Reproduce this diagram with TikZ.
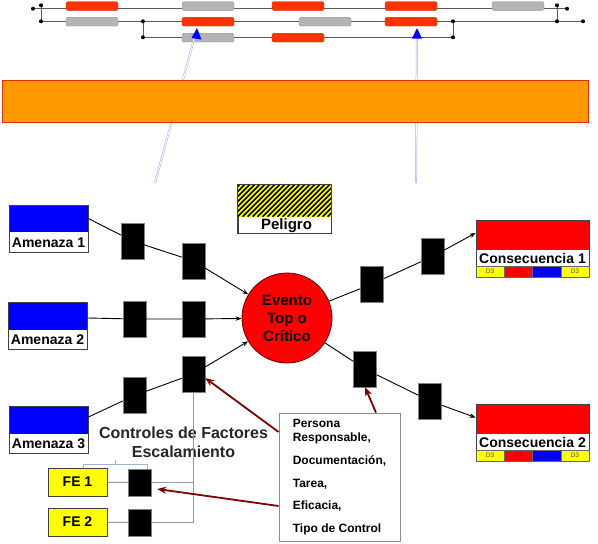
\documentclass[tikz,border=0pt]{standalone}
\usepackage{fontspec}
\setmainfont{Liberation Sans}
\usetikzlibrary{arrows.meta,calc}
\definecolor{orng}{HTML}{FF9900}
\definecolor{orngedge}{HTML}{E03000}
\definecolor{railred}{HTML}{FF3300}
\definecolor{railgray}{HTML}{B4B4B4}
\definecolor{darkmaroon}{HTML}{800000}
\definecolor{framecol}{HTML}{404040}
\definecolor{cellyel}{HTML}{FFFF00}
\definecolor{brackcol}{HTML}{9DB4D4}
\definecolor{lav}{HTML}{A8A8F0}
\begin{document}
\begin{tikzpicture}[x=1pt,y=-1pt,
  bfont/.style={font=\bfseries\fontsize{14}{16}\selectfont},
  ctrl/.style={fill=black, draw=black!50, line width=0.4pt, minimum width=23pt, minimum height=36pt, inner sep=0pt},
  smallctrl/.style={ctrl, minimum height=27pt},
  threat/.style={draw=framecol, line width=0.8pt, fill=white, minimum width=79pt, minimum height=47pt, inner sep=0pt,
     path picture={\fill[blue] (path picture bounding box.north west) rectangle ([yshift=-27pt]path picture bounding box.north east);}},
  conseq/.style={draw=framecol, line width=0.8pt, fill=white, minimum width=113pt, minimum height=57pt, inner sep=0pt,
     path picture={\fill[red] (path picture bounding box.north west) rectangle ([yshift=-30pt]path picture bounding box.north east);}},
  cell/.style={draw=black!60, line width=0.4pt, minimum width=28.25pt, minimum height=11pt, inner sep=0pt, font=\fontsize{6.5}{7}\selectfont},
  febox/.style={fill=cellyel, draw=framecol, line width=0.8pt, minimum width=59pt, minimum height=28pt, inner sep=0pt, bfont},
  conn/.style={draw=black, line width=0.9pt, -{Stealth[length=6pt,width=4.5pt]}},
  redarrow/.style={draw=darkmaroon, line width=1.8pt, -{Stealth[length=9pt,width=7pt]}},
  gline/.style={draw=black!40, line width=1pt},
  rail/.style={draw=black!65, line width=0.9pt},
  raildot/.style={circle, fill=black, inner sep=0pt, minimum size=4pt},
  blk/.style={rounded corners=1.5pt, line width=0.4pt}
]
\useasboundingbox (0,0) rectangle (598,544);

% ---------- top rail diagram ----------
\coordinate (l1) at (33,8.7);
\coordinate (l2) at (41,5.3);
\coordinate (l3) at (41,21.3);
\coordinate (r1) at (567,8.7);
\coordinate (r2) at (557,5.3);
\coordinate (r3) at (557,21.3);
\coordinate (r4) at (583,21.3);
\coordinate (m1) at (143,21.3);
\coordinate (m2) at (143,37.3);
\coordinate (m3) at (453,21.3);
\coordinate (m4) at (453,37.3);
\draw[rail] (l1) -- (r1);
\draw[rail] (l3) -- (r4);
\draw[rail] (m2) -- (m4);
\draw[rail] (l2) -- (l3);
\draw[rail] (r2) -- (r3);
\draw[rail] (m1) -- (m2);
\draw[rail] (m3) -- (m4);
\foreach \c in {l1,l2,l3,r1,r2,r3,r4,m1,m2,m3,m4} \node[raildot] at (\c) {};
\foreach \x/\y/\c in {66/6/railred, 182/6/railgray, 272/6/railred, 385/6/railred, 492/6/railgray,
                      66/21.7/railgray, 182/21.7/railred, 299/21.7/railgray, 385/21.7/railred,
                      182/37.7/railgray, 272/37.7/railred}
  \filldraw[blk, fill=\c, draw=\c!85!black] (\x,\y-4.3) rectangle ++(52,8.6);

% blue pointers
\coordinate (b1s) at (155,183);
\coordinate (b1t) at (197,28);
\coordinate (b2s) at (416,183);
\coordinate (b2t) at (417,28);
\draw[lav, double=white, double distance=0.9pt, line width=0.5pt] (b1s) -- ($(b1s)!0.93!(b1t)$);
\draw[lav, double=white, double distance=0.9pt, line width=0.5pt] (b2s) -- ($(b2s)!0.93!(b2t)$);
\fill[blue] (b1t) -- ++(-5.5,10) -- ++(10,1.5) -- cycle;
\fill[blue] (b2t) -- ++(-5,10.5) -- ++(10,0) -- cycle;

% orange bar
\filldraw[fill=orng, draw=orngedge, line width=0.8pt] (2,80) rectangle (588,122);

% ---------- bow tie ----------
% Peligro
\node[draw=framecol, line width=0.8pt, fill=white, minimum width=93pt, minimum height=48pt, inner sep=0pt] (pel) at (284.5,209) {};
\begin{scope}
  \clip (pel.north west) rectangle ([yshift=-32pt]pel.north east);
  \fill[cellyel] (pel.north west) rectangle ([yshift=-32pt]pel.north east);
  \foreach \i in {-40,-35,...,100}
    \draw[line width=1.7pt] ([xshift=\i pt, yshift=-32pt]pel.north west) -- ++(40,-40);
\end{scope}
\draw[framecol, line width=0.8pt] (pel.north west) rectangle (pel.south east);
\node[font=\bfseries\fontsize{15}{17}\selectfont, inner sep=0pt] at ([xshift=2pt,yshift=8pt]pel.south) {Peligro};

% threats
\node[threat] (a1) at (48.5,228.5) {};
\node[bfont, inner sep=0pt] at ([yshift=10pt]a1.south) {Amenaza 1};
\node[threat] (a2) at (47.5,326) {};
\node[bfont, inner sep=0pt] at ([yshift=10pt]a2.south) {Amenaza 2};
\node[threat] (a3) at (48.5,430) {};
\node[bfont, inner sep=0pt] at ([yshift=10pt]a3.south) {Amenaza 3};

% top event
\node[circle, fill=red, draw=black!60!red, line width=0.8pt, minimum size=90pt, inner sep=0pt, align=center,
      font=\bfseries\fontsize{15}{18}\selectfont] (ev) at (287,318) {Evento\\Top o\\Crítico};

% controls
\node[ctrl] (c11) at (132.5,241) {};
\node[ctrl] (c12) at (193.5,261) {};
\node[ctrl] (c21) at (134.5,319) {};
\node[ctrl] (c22) at (193.5,319) {};
\node[ctrl] (c31) at (134.5,395.5) {};
\node[ctrl] (c32) at (193.5,374) {};
\node[ctrl] (r11) at (372,284) {};
\node[ctrl] (r12) at (432.5,256.5) {};
\node[ctrl] (r21) at (365,369) {};
\node[ctrl] (r22) at (430,401) {};

% consequences
\node[conseq] (c1) at (532.5,248.5) {};
\node[bfont, inner sep=0pt] at ([yshift=19pt]c1.south) {Consecuencia 1};
\node[conseq] (c2) at (532.5,432.5) {};
\node[bfont, inner sep=0pt] at ([yshift=19pt]c2.south) {Consecuencia 2};
\foreach \k/\yy in {1/271.5, 2/455.5} {
  \node[cell, fill=cellyel, text=black!70] (d\k a) at (490.1,\yy) {D3};
  \node[cell, fill=red, text=red!55!black] (d\k b) at (518.4,\yy) {E4};
  \node[cell, fill=blue, text=blue!55!black] (d\k c) at (546.6,\yy) {B2};
  \node[cell, fill=cellyel, text=black!70] (d\k d) at (574.9,\yy) {D3};
}

% connectors
\draw[conn] ([yshift=10pt]a1.east) -- (c11) -- (c12) -- (ev);
\draw[conn] ([yshift=8pt]a2.east) -- (c21) -- (c22) -- (ev);
\draw[conn] ([yshift=13pt]a3.east) -- (c31) -- (c32) -- (ev);
\draw[conn] (ev) -- (r11) -- (r12) -- ([yshift=15.5pt]c1.west);
\draw[conn] (ev) -- (r21) -- (r22) -- ([yshift=15pt]c2.west);

% escalation factors
\node[font=\bfseries\fontsize{16}{19}\selectfont, text=black!85, align=center, inner sep=0pt] (ctl) at (183.5,442.5) {Controles de Factores\\Escalamiento};
\draw[brackcol, line width=0.8pt] (83,469) -- (83,464) -- (147,464) -- (147,469);
\draw[brackcol, line width=0.8pt] (115,464) -- (115,459.5);
\node[febox] (fe1) at (77.5,482) {FE 1};
\node[febox] (fe2) at (77.5,522) {FE 2};
\node[smallctrl] (fe1c) at (139.5,482.5) {};
\node[smallctrl] (fe2c) at (139.5,522.5) {};
\coordinate (j1) at (c32.south |- fe1c);
\coordinate (j2) at (c32.south |- fe2c);
\draw[gline] (c32.south) -- (j2) -- (fe2c);
\draw[gline] (fe1c) -- (j1);
\draw[gline] (fe1) -- (fe1c);
\draw[gline] (fe2) -- (fe2c);

% info box
\node[draw=black!45, line width=0.8pt, fill=white, minimum width=121pt, minimum height=128pt, align=left, inner sep=0pt,
      font=\bfseries\fontsize{12}{14}\selectfont] (info) at (339.5,477)
  {Persona\\Responsable,\\[9pt]Documentación,\\[9pt]Tarea,\\[8pt]Eficacia,\\[9pt]Tipo de Control};
\coordinate (fe1tip) at ([xshift=6pt,yshift=-6.5pt]fe1c.east);
\draw[redarrow] ([xshift=36.5pt]info.north) -- (r21.south);
\draw[redarrow] ([yshift=45pt]info.west) -- ([yshift=-4pt]c32.east);
\draw[redarrow] ([yshift=-29pt]info.west) -- (fe1tip);
\end{tikzpicture}
\end{document}
